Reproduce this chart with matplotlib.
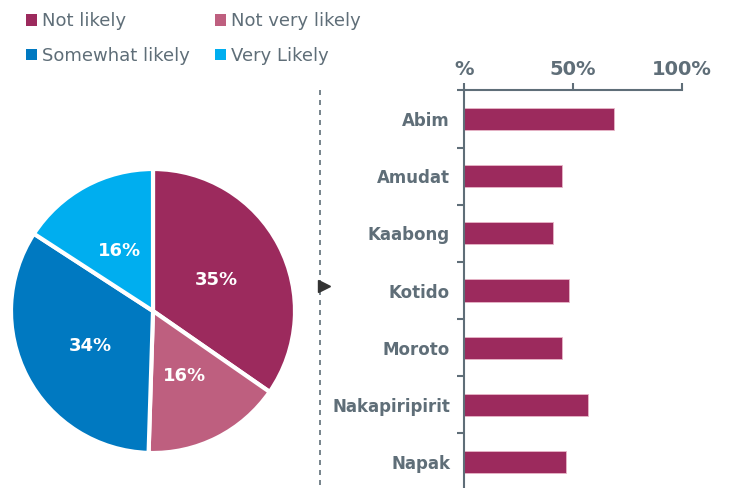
import matplotlib
matplotlib.use("Agg")
import matplotlib.pyplot as plt
from matplotlib.lines import Line2D
from matplotlib.patches import Patch

# Data
pie_labels = ["Not likely", "Not very likely", "Somewhat likely", "Very Likely"]
pie_values = [35, 16, 34, 16]
pie_colors = ["#9C2A5D", "#BE5F7F", "#0079C1", "#00AEEF"]

districts = ["Abim", "Amudat", "Kaabong", "Kotido", "Moroto", "Nakapiripirit", "Napak"]
not_likely_pct = [69, 45, 41, 48, 45, 57, 47]
xticks = [0, 50, 100]
xticklabels = ["%", "50%", "100%"]

grey = "#5F6E78"
W, H = 733, 488
fig = plt.figure(figsize=(W / 100, H / 100), dpi=100)
plt.rcParams['font.family'] = ['DejaVu Sans']

# Pie
cx, cy, r = 153, 311, 142
axp = fig.add_axes([(cx - r) / W, (H - cy - r) / H, 2 * r / W, 2 * r / H])
wedges, texts = axp.pie(pie_values, colors=pie_colors, startangle=90, counterclock=False,
                        wedgeprops=dict(edgecolor="white", linewidth=3),
                        labels=[f"{v}%" for v in pie_values], labeldistance=0.5,
                        textprops=dict(color="white", fontsize=13, fontweight="bold",
                                       ha="center", va="center_baseline"))
axp.set_xlim(-1, 1)
axp.set_ylim(-1, 1)
axp.set_aspect("equal")
axp.axis("off")

# Legend (row-wise order: matplotlib fills columns first)
handles = [Patch(facecolor=c, edgecolor="none") for c in pie_colors]
order = [0, 2, 1, 3]
leg = fig.legend([handles[i] for i in order], [pie_labels[i] for i in order],
                 loc="upper left", bbox_to_anchor=(0.0136, 1.008),
                 ncol=2, frameon=False, fontsize=13, handlelength=0.6, handleheight=0.6,
                 handletextpad=0.3, columnspacing=1.37, labelspacing=0.92,
                 labelcolor=grey)

# Bar chart
top_px, bot_px = 90.4, 490.6
axb = fig.add_axes([464 / W, (H - bot_px) / H, 218 / W, (bot_px - top_px) / H])
ypos = list(range(len(districts)))
axb.barh(ypos, not_likely_pct, height=0.39, color="#9C2A5D", edgecolor="#E8B6C8", linewidth=0.6)
axb.set_xlim(0, 100)
axb.set_ylim(len(districts) - 0.5, -0.5)
axb.xaxis.tick_top()
axb.set_xticks(xticks)
axb.set_xticklabels(xticklabels, fontsize=14, fontweight="bold", color=grey)
axb.set_yticks(ypos)
axb.set_yticklabels(districts, fontsize=12, fontweight="bold", color=grey)
axb.set_yticks([y - 0.5 for y in range(len(districts) + 1)], minor=True)
axb.tick_params(axis="y", which="major", length=0, pad=10)
axb.tick_params(axis="y", which="minor", length=5, width=1.5, color=grey, direction="out")
axb.tick_params(axis="x", length=5, width=1.5, color=grey, direction="out", pad=3)
for s in ["right", "bottom"]:
    axb.spines[s].set_visible(False)
for s in ["top", "left"]:
    axb.spines[s].set_color(grey)
    axb.spines[s].set_linewidth(1.5)

# Divider and arrow
fig.add_artist(Line2D([320 / W, 320 / W], [1 - 90 / H, 0], transform=fig.transFigure,
                      color=grey, linestyle=(0, (3, 3)), linewidth=1.2))
fig.add_artist(Line2D([324 / W], [1 - 286 / H], transform=fig.transFigure, marker=">",
                      markersize=8, color="#333333", linestyle="none"))

fig.savefig("out.png", dpi=100)
